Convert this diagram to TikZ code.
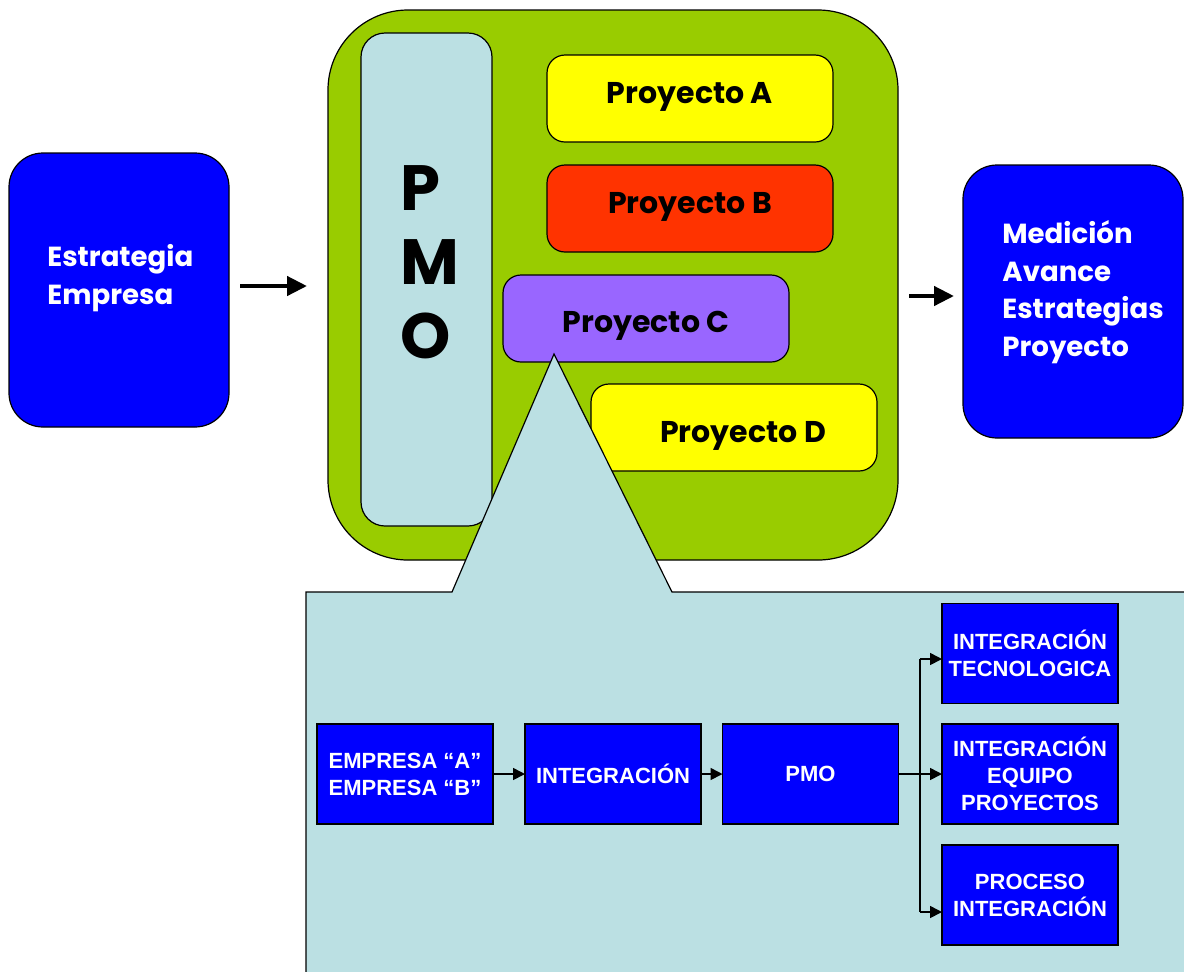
\documentclass[tikz,border=0pt]{standalone}
\usepackage{fontspec}
\setmainfont{Poppins}
\newfontfamily\narrowfont{Liberation Sans}
\usetikzlibrary{arrows.meta,calc}
\definecolor{pgreen}{HTML}{99CC00}
\definecolor{plblue}{HTML}{BBE0E3}
\definecolor{pyellow}{HTML}{FFFF00}
\definecolor{pred}{HTML}{FF3300}
\definecolor{ppurple}{HTML}{9966FF}
\definecolor{pblue}{HTML}{0000FF}
\tikzset{
  rbox/.style={draw=black, line width=0.6pt, inner sep=0pt, outer sep=0pt},
  projbox/.style={rbox, rounded corners=9pt, minimum width=143pt, minimum height=43.5pt,
    font=\fontsize{15}{18}\selectfont\bfseries},
  bigbox/.style={rbox, fill=pblue, rounded corners=17pt, minimum width=110pt, minimum height=137pt},
  bigtext/.style={text=white, align=left, inner sep=0pt, anchor=west,
    font=\fontsize{13.8}{19}\selectfont\bfseries},
  sqbox/.style={draw=black, line width=0.7pt, fill=pblue, inner sep=0pt, outer sep=0pt,
    minimum width=88pt, minimum height=50pt, text=white, align=center,
    font=\narrowfont\fontsize{11}{13.5}\selectfont\bfseries},
  bigarrow/.style={line width=2.2pt, -{Triangle[length=10pt,width=9.5pt]}},
  smallarrow/.style={line width=0.8pt, -{Triangle[length=6pt,width=6pt]}},
  smallline/.style={line width=0.8pt},
}
\begin{document}
\begin{tikzpicture}[x=0.5pt,y=-0.5pt]
\useasboundingbox (0,0) rectangle (1184,971);
% left and right boxes
\node[bigbox] (estr) at (119,290) {};
\node[bigtext] (estrt) at (47,278.5) {Estrategia\\Empresa};
\node[bigbox, minimum height=136.5pt] (med) at (1073,301.5) {};
\node[bigtext, font=\fontsize{13.8}{18.75}\selectfont\bfseries] (medt) at (1002,292) {Medición\\Avance\\Estrategias\\Proyecto};
% green container
\node[rbox, fill=pgreen, rounded corners=40pt, minimum width=285pt, minimum height=275pt] (green) at (613,285) {};
\node[rbox, fill=plblue, rounded corners=12pt, minimum width=65.5pt, minimum height=246.5pt] (pmop) at (426.5,279.5) {};
\node[inner sep=0pt, anchor=west, align=left, font=\fontsize{32}{37}\selectfont\bfseries] (pmot) at (400,262.5) {P\\M\\O};
\node[projbox, fill=pyellow] (pa) at (690,98.5) {\raisebox{1pt}[\height][\depth]{Proyecto A}};
\node[projbox, fill=pred] (pb) at (690,208.5) {\raisebox{1pt}[\height][\depth]{Proyecto B}};
\node[projbox, fill=ppurple] (pc) at (646,318.5) {\raisebox{-3.5pt}[\height][\depth]{Proyecto C}};
\node[projbox, fill=pyellow] (pd) at (734,427.5) {\raisebox{-4pt}[\height][\depth]{\hspace*{9pt}Proyecto D}};
% arrows
\coordinate (a1s) at (240,286);
\coordinate (a1e) at (307,286);
\coordinate (a2s) at (909,296);
\coordinate (a2e) at (954,296);
\draw[bigarrow] (a1s) -- (a1e);
\draw[bigarrow] (a2s) -- (a2e);
% callout
\draw[line width=0.6pt, fill=plblue] (306,1000) -- (306,592) -- (452,592) -- (554,354) -- (672,592) -- (1200,592) -- (1200,1000) -- cycle;
% lower boxes
\node[sqbox] (emp) at (405,774) {EMPRESA “A”\\EMPRESA “B”};
\node[sqbox] (integ) at (613,774) {INTEGRACIÓN};
\node[sqbox] (pmo) at (810.5,774) {PMO};
\node[sqbox] (tec) at (1030,653.5) {INTEGRACIÓN\\TECNOLOGICA};
\node[sqbox] (equ) at (1030,774) {INTEGRACIÓN\\EQUIPO\\PROYECTOS};
\node[sqbox] (proc) at (1030,895) {PROCESO\\INTEGRACIÓN};
\coordinate (br) at (920,774);
\coordinate (brtop) at (920,659);
\coordinate (brbot) at (920,912);
\draw[smallarrow] (emp) -- (integ);
\draw[smallarrow] (integ) -- (pmo);
\draw[smallline] (pmo.east) -- (br);
\draw[smallline] (brtop) -- (brbot);
\draw[smallarrow] (brtop) -- (brtop -| tec.west);
\draw[smallarrow] (br) -- (equ.west);
\draw[smallarrow] (brbot) -- (brbot -| proc.west);
\end{tikzpicture}
\end{document}
